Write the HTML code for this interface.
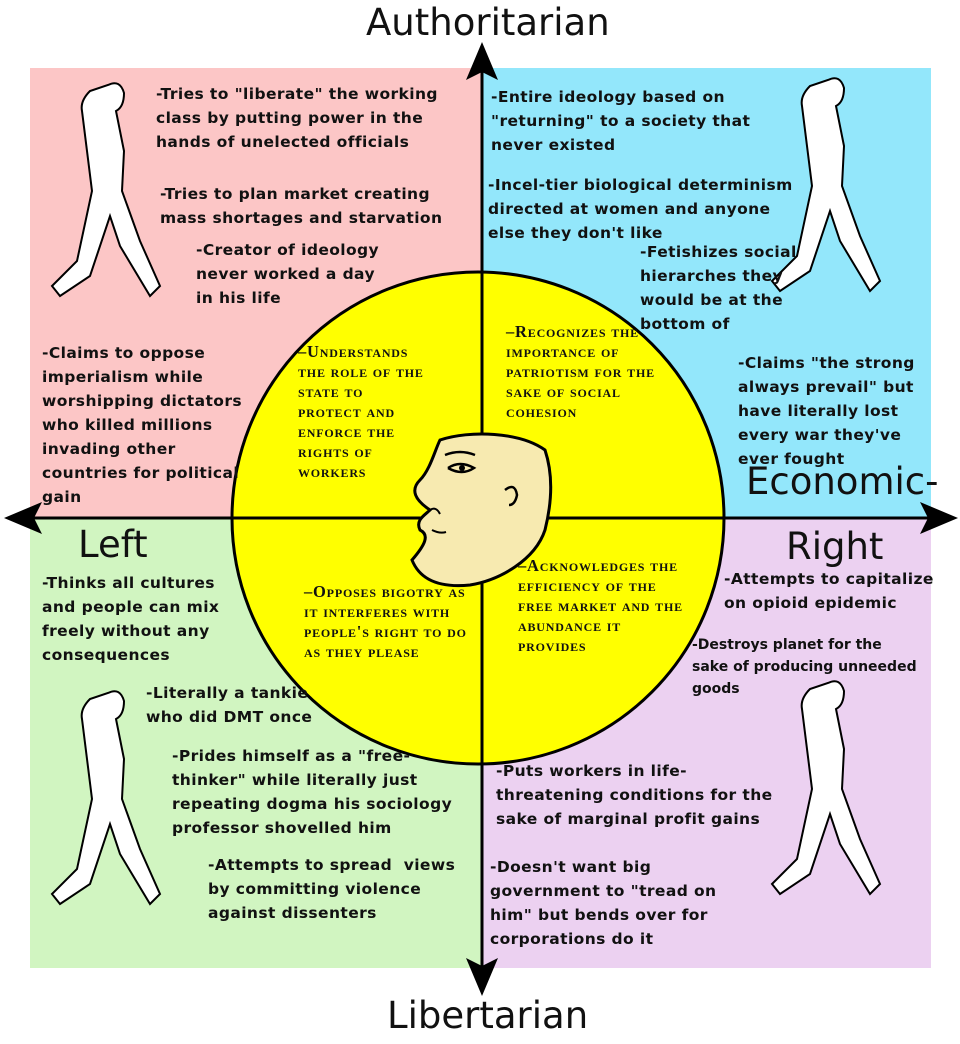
<!DOCTYPE html>
<html><head><meta charset="utf-8"><style>
body{margin:0;width:960px;height:1044px;background:#fff;position:relative;overflow:hidden;font-family:"Liberation Sans",sans-serif}
.q{position:absolute}
.t{position:absolute;font-family:"DejaVu Sans",sans-serif;font-weight:bold;font-size:15.5px;line-height:24px;color:#111;white-space:nowrap;letter-spacing:0.4px}
.c{position:absolute;font-family:"Liberation Serif",serif;font-weight:bold;font-size:16.5px;line-height:20px;color:#111;white-space:nowrap;font-variant:small-caps;letter-spacing:0.8px}
.lab{position:absolute;font-family:"DejaVu Sans",sans-serif;font-size:37px;color:#111;line-height:1}
</style></head><body>
<div class="q" style="left:30px;top:68px;width:452px;height:450px;background:#fcc6c6"></div>
<div class="q" style="left:482px;top:68px;width:449px;height:450px;background:#93e7fb"></div>
<div class="q" style="left:30px;top:518px;width:452px;height:450px;background:#d1f5c1"></div>
<div class="q" style="left:482px;top:518px;width:449px;height:450px;background:#ecd1f1"></div>
<svg width="960" height="1044" style="position:absolute;left:0;top:0">
<circle cx="478" cy="518" r="246" fill="#ffff00" stroke="#000" stroke-width="3"/>
<line x1="20" y1="518" x2="940" y2="518" stroke="#000" stroke-width="3"/>
<line x1="482" y1="60" x2="482" y2="980" stroke="#000" stroke-width="3"/>
<polygon points="482,42 466,80 482,72 498,80" fill="#000"/>
<polygon points="482,996 466,958 482,966 498,958" fill="#000"/>
<polygon points="4,518 42,502 34,518 42,534" fill="#000"/>
<polygon points="958,518 920,502 928,518 920,534" fill="#000"/>
<path d="M440,440 C470,430 520,432 545,450 C555,480 550,510 545,530 C535,560 500,580 470,585 C440,588 420,580 412,560 C425,545 430,535 420,530 C415,520 425,515 430,510 C415,500 410,490 420,480 C430,470 435,450 440,440Z" fill="#f7eab0" stroke="#000" stroke-width="3"/>
<path d="M445,455 q15,-6 30,0 M448,468 q12,-8 26,0 q-12,8 -26,0" fill="none" stroke="#000" stroke-width="2.5"/>
<circle cx="462" cy="468" r="3" fill="#000"/>
<path d="M505,490 q10,-8 12,5 q-2,10 -8,10" fill="none" stroke="#000" stroke-width="2.5"/>
<path d="M432,530 q8,4 14,2 M430,510 q6,-4 10,4" fill="none" stroke="#000" stroke-width="2"/>
<g fill="#fff" stroke="#000" stroke-width="2">
<path d="M108,85 q12,-6 16,8 q0,14 -8,18 l8,40 l-2,40 l18,50 l20,45 l-10,10 l-30,-50 l-10,-30 l-20,60 l-30,20 l-8,-10 l25,-25 l15,-70 l-5,-40 l-5,-40 q-2,-10 8,-20 z"/>
<path d="M828,80 q12,-6 16,8 q0,14 -8,18 l8,40 l-2,40 l18,50 l20,45 l-10,10 l-30,-50 l-10,-30 l-20,60 l-30,20 l-8,-10 l25,-25 l15,-70 l-5,-40 l-5,-40 q-2,-10 8,-20 z"/>
<path d="M108,693 q12,-6 16,8 q0,14 -8,18 l8,40 l-2,40 l18,50 l20,45 l-10,10 l-30,-50 l-10,-30 l-20,60 l-30,20 l-8,-10 l25,-25 l15,-70 l-5,-40 l-5,-40 q-2,-10 8,-20 z"/>
<path d="M828,683 q12,-6 16,8 q0,14 -8,18 l8,40 l-2,40 l18,50 l20,45 l-10,10 l-30,-50 l-10,-30 l-20,60 l-30,20 l-8,-10 l25,-25 l15,-70 l-5,-40 l-5,-40 q-2,-10 8,-20 z"/>
</g>
</svg>
<div class="lab" style="left:366px;top:4px">Authoritarian</div>
<div class="lab" style="left:387px;top:997px">Libertarian</div>
<div class="lab" style="left:78px;top:526px">Left</div>
<div class="lab" style="left:786px;top:528px">Right</div>
<div class="lab" style="left:746px;top:463px">Economic-</div>

<div class="t" style="left:156px;top:82px">-Tries to "liberate" the working<br>class by putting power in the<br>hands of unelected officials</div>
<div class="t" style="left:160px;top:182px">-Tries to plan market creating<br>mass shortages and starvation</div>
<div class="t" style="left:196px;top:238px">-Creator of ideology<br>never worked a day<br>in his life</div>
<div class="t" style="left:42px;top:341px">-Claims to oppose<br>imperialism while<br>worshipping dictators<br>who killed millions<br>invading other<br>countries for political<br>gain</div>

<div class="t" style="left:491px;top:85px">-Entire ideology based on<br>"returning" to a society that<br>never existed</div>
<div class="t" style="left:488px;top:173px">-Incel-tier biological determinism<br>directed at women and anyone<br>else they don't like</div>
<div class="t" style="left:640px;top:240px">-Fetishizes social<br>hierarches they<br>would be at the<br>bottom of</div>
<div class="t" style="left:738px;top:351px">-Claims "the strong<br>always prevail" but<br>have literally lost<br>every war they've<br>ever fought</div>

<div class="t" style="left:42px;top:571px">-Thinks all cultures<br>and people can mix<br>freely without any<br>consequences</div>
<div class="t" style="left:146px;top:681px">-Literally a tankie<br>who did DMT once</div>
<div class="t" style="left:172px;top:744px">-Prides himself as a "free-<br>thinker" while literally just<br>repeating dogma his sociology<br>professor shovelled him</div>
<div class="t" style="left:208px;top:853px">-Attempts to spread&nbsp; views<br>by committing violence<br>against dissenters</div>

<div class="t" style="left:724px;top:567px">-Attempts to capitalize<br>on opioid epidemic</div>
<div class="t" style="left:692px;top:634px;font-size:14px;line-height:22px;letter-spacing:0">-Destroys planet for the<br>sake of producing unneeded<br>goods</div>
<div class="t" style="left:496px;top:759px">-Puts workers in life-<br>threatening conditions for the<br>sake of marginal profit gains</div>
<div class="t" style="left:490px;top:855px">-Doesn't want big<br>government to "tread on<br>him" but bends over for<br>corporations do it</div>

<div class="c" style="left:298px;top:342px">–Understands<br>the role of the<br>state to<br>protect and<br>enforce the<br>rights of<br>workers</div>
<div class="c" style="left:506px;top:322px">–Recognizes the<br>importance of<br>patriotism for the<br>sake of social<br>cohesion</div>
<div class="c" style="left:304px;top:582px">–Opposes bigotry as<br>it interferes with<br>people's right to do<br>as they please</div>
<div class="c" style="left:518px;top:556px">–Acknowledges the<br>efficiency of the<br>free market and the<br>abundance it<br>provides</div>
</body></html>
